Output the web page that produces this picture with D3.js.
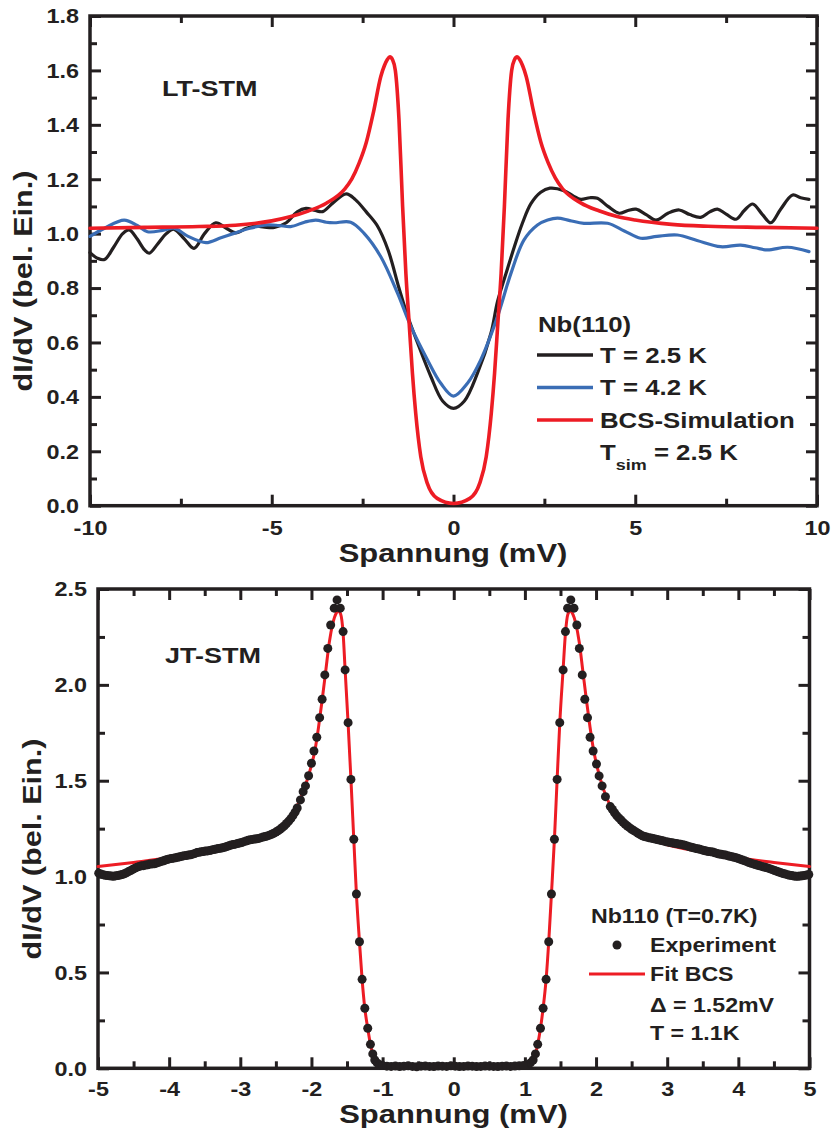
<!DOCTYPE html>
<html>
<head>
<meta charset="utf-8">
<script src="https://cdn.jsdelivr.net/npm/d3@7"></script>
<style>
  body { margin: 0; background: #fff; }
  svg { display: block; background: #fff; }
  text { font-family: "Liberation Sans", Arial, sans-serif; font-weight: bold; fill: #231f20; }
</style>
</head>
<body>
<svg id="chart" width="832" height="1138"></svg>
<script>
var INK = "#231f20";
var RED = "#ed1c24";
var BLUE = "#3a6db5";
var STRETCH = 1.2;   // the figure font is wider than Arial
var MAJOR = 11, MINOR = 7;

// ---------- LT-STM panel (Nb(110)) ----------
var ltXTicks = [-10, -5, 0, 5, 10];
var ltXMinor = [-7.5, -2.5, 2.5, 7.5];
var ltYTicks = [0, 0.2, 0.4, 0.6, 0.8, 1.0, 1.2, 1.4, 1.6, 1.8];
var ltYMinor = [0.1, 0.3, 0.5, 0.7, 0.9, 1.1, 1.3, 1.5, 1.7];

var ltT25 = [
  [-10, 0.93], [-9.8, 0.91], [-9.6, 0.905], [-9.35, 0.95], [-9.1, 1.0], [-8.92, 1.014],
  [-8.7, 0.98], [-8.5, 0.94], [-8.37, 0.928], [-8.15, 0.96], [-7.9, 1.0], [-7.69, 1.016],
  [-7.4, 0.98], [-7.14, 0.946], [-6.85, 1.0], [-6.54, 1.04], [-6.25, 1.02], [-5.99, 1.003],
  [-5.7, 1.02], [-5.45, 1.028], [-5.2, 1.024], [-4.93, 1.023], [-4.6, 1.04], [-4.3, 1.08],
  [-4.06, 1.093], [-3.8, 1.085], [-3.6, 1.081], [-3.3, 1.115], [-2.95, 1.146], [-2.7, 1.125],
  [-2.4, 1.08], [-2.1, 1.03], [-1.8, 0.94], [-1.5, 0.80], [-1.27, 0.70], [-0.95, 0.585],
  [-0.62, 0.474], [-0.3, 0.385], [0, 0.358], [0.3, 0.385], [0.66, 0.487], [1.03, 0.634],
  [1.21, 0.75], [1.39, 0.83], [1.67, 0.95], [1.9, 1.04], [2.13, 1.11], [2.4, 1.152],
  [2.65, 1.167], [3.04, 1.158], [3.3, 1.138], [3.5, 1.126], [3.75, 1.132], [3.96, 1.13],
  [4.25, 1.10], [4.56, 1.075], [4.8, 1.085], [5.02, 1.09], [5.3, 1.07], [5.57, 1.05],
  [5.9, 1.075], [6.21, 1.087], [6.5, 1.07], [6.8, 1.06], [7.05, 1.08], [7.26, 1.09],
  [7.5, 1.072], [7.77, 1.053], [8.0, 1.085], [8.23, 1.109], [8.5, 1.07], [8.73, 1.04],
  [9.0, 1.09], [9.33, 1.142], [9.55, 1.132], [9.78, 1.126]
];

var ltT42 = [
  [-10, 0.99], [-9.6, 1.02], [-9.06, 1.05], [-8.7, 1.03], [-8.42, 1.007], [-8.0, 1.012],
  [-7.69, 1.02], [-7.3, 0.99], [-6.81, 0.967], [-6.4, 0.985], [-6.04, 1.001], [-5.6, 1.02],
  [-5.12, 1.032], [-4.8, 1.03], [-4.48, 1.026], [-4.1, 1.042], [-3.79, 1.05], [-3.5, 1.042],
  [-3.29, 1.04], [-2.83, 1.042], [-2.46, 1.001], [-2.0, 0.915], [-1.54, 0.781], [-1.17, 0.658],
  [-0.715, 0.536], [-0.35, 0.45], [0, 0.403], [0.385, 0.45], [0.75, 0.536], [1.21, 0.695],
  [1.58, 0.854], [1.94, 0.977], [2.31, 1.032], [2.59, 1.05], [2.86, 1.057], [3.2, 1.048],
  [3.59, 1.038], [4.24, 1.038], [4.7, 1.01], [5.15, 0.983], [5.6, 0.99], [6.16, 0.995],
  [6.7, 0.975], [7.35, 0.952], [7.9, 0.958], [8.3, 0.948], [8.64, 0.94], [9.19, 0.95],
  [9.78, 0.934]
];

var ltBcs = [
  [-10, 1.020], [-8.5, 1.023], [-7, 1.026], [-6, 1.031], [-5, 1.047], [-4.5, 1.062],
  [-4, 1.083], [-3.5, 1.112], [-3, 1.163], [-2.8, 1.200], [-2.6, 1.258], [-2.4, 1.335],
  [-2.2, 1.448], [-2.0, 1.578], [-1.9, 1.618], [-1.82, 1.640], [-1.75, 1.650], [-1.68, 1.640],
  [-1.6, 1.600], [-1.5, 1.420], [-1.4, 1.100], [-1.31, 0.854], [-1.22, 0.671], [-1.13, 0.487],
  [-1.04, 0.340], [-0.9, 0.180], [-0.72, 0.082], [-0.45, 0.027], [0, 0.008], [0.45, 0.027],
  [0.72, 0.082], [0.9, 0.180], [1.04, 0.340], [1.13, 0.487], [1.22, 0.671], [1.31, 0.854],
  [1.4, 1.100], [1.5, 1.420], [1.6, 1.600], [1.68, 1.640], [1.75, 1.650], [1.82, 1.640],
  [1.9, 1.618], [2.0, 1.578], [2.2, 1.450], [2.4, 1.338], [2.6, 1.262], [2.8, 1.205],
  [3.0, 1.165], [3.5, 1.113], [4.0, 1.084], [4.5, 1.063], [5.0, 1.050], [6.0, 1.034],
  [7.0, 1.027], [8.5, 1.023], [10, 1.020]
];

// ---------- JT-STM panel (Nb110, T=0.7K) ----------
var jtXTicks = [-5, -4, -3, -2, -1, 0, 1, 2, 3, 4, 5];
var jtXMinor = [-4.5, -3.5, -2.5, -1.5, -0.5, 0.5, 1.5, 2.5, 3.5, 4.5];
var jtYTicks = [0, 0.5, 1.0, 1.5, 2.0, 2.5];
var jtYMinor = [0.25, 0.75, 1.25, 1.75, 2.25];

var jtExpLeftTail = [
  [-4.99, 1.018], [-4.96, 1.014], [-4.93, 1.010], [-4.90, 1.007], [-4.87, 1.005], [-4.84, 1.004],
  [-4.81, 1.003], [-4.78, 1.002], [-4.75, 1.004], [-4.72, 1.005], [-4.69, 1.008], [-4.66, 1.011],
  [-4.63, 1.015], [-4.60, 1.020], [-4.57, 1.026], [-4.54, 1.032], [-4.51, 1.038], [-4.48, 1.044],
  [-4.45, 1.049], [-4.42, 1.053], [-4.39, 1.056], [-4.36, 1.057], [-4.33, 1.060], [-4.30, 1.062],
  [-4.27, 1.065], [-4.24, 1.066], [-4.21, 1.067], [-4.18, 1.070], [-4.15, 1.074], [-4.12, 1.078],
  [-4.09, 1.081], [-4.06, 1.085], [-4.03, 1.089], [-4.00, 1.092], [-3.97, 1.094], [-3.94, 1.096],
  [-3.91, 1.098], [-3.88, 1.101], [-3.85, 1.103], [-3.82, 1.106], [-3.79, 1.109], [-3.76, 1.110],
  [-3.73, 1.112], [-3.70, 1.114], [-3.67, 1.117], [-3.64, 1.120], [-3.61, 1.125], [-3.58, 1.127],
  [-3.55, 1.129], [-3.52, 1.131], [-3.49, 1.133], [-3.46, 1.134], [-3.43, 1.136], [-3.40, 1.139],
  [-3.37, 1.141], [-3.34, 1.144], [-3.31, 1.146], [-3.28, 1.148], [-3.25, 1.150], [-3.22, 1.153],
  [-3.19, 1.157], [-3.16, 1.161], [-3.13, 1.165], [-3.10, 1.167], [-3.07, 1.169], [-3.04, 1.172],
  [-3.01, 1.175], [-2.98, 1.178], [-2.95, 1.182], [-2.92, 1.185], [-2.89, 1.189], [-2.86, 1.192],
  [-2.83, 1.194], [-2.80, 1.196], [-2.77, 1.197], [-2.74, 1.199], [-2.71, 1.203], [-2.68, 1.206],
  [-2.65, 1.209], [-2.62, 1.212], [-2.59, 1.216], [-2.56, 1.221], [-2.53, 1.226], [-2.50, 1.232],
  [-2.47, 1.239], [-2.44, 1.247], [-2.41, 1.256], [-2.38, 1.265], [-2.35, 1.277], [-2.32, 1.289],
  [-2.29, 1.302], [-2.26, 1.318], [-2.23, 1.336], [-2.20, 1.358]
];

var jtExpPeaks = [
  [-2.155, 1.40], [-2.117, 1.443], [-2.084, 1.473], [-2.04, 1.526], [-2.00, 1.591], [-1.965, 1.655],
  [-1.925, 1.727], [-1.885, 1.829], [-1.85, 1.925], [-1.812, 2.052], [-1.77, 2.19], [-1.73, 2.312],
  [-1.68, 2.40], [-1.64, 2.443], [-1.595, 2.40], [-1.555, 2.278], [-1.527, 2.078], [-1.485, 1.803],
  [-1.445, 1.507], [-1.405, 1.195], [-1.368, 0.909], [-1.325, 0.66], [-1.288, 0.464], [-1.25, 0.313],
  [-1.209, 0.209], [-1.171, 0.125], [-1.138, 0.075], [-1.11, 0.043], [-1.077, 0.028], [-1.04, 0.018],
  [1.04, 0.018], [1.077, 0.028], [1.116, 0.043], [1.148, 0.075], [1.18, 0.125], [1.219, 0.209],
  [1.256, 0.313], [1.298, 0.464], [1.335, 0.66], [1.373, 0.909], [1.415, 1.195], [1.453, 1.507],
  [1.49, 1.803], [1.537, 2.078], [1.57, 2.278], [1.60, 2.40], [1.645, 2.443], [1.69, 2.40],
  [1.73, 2.312], [1.765, 2.19], [1.806, 2.052], [1.842, 1.925], [1.88, 1.829], [1.916, 1.727],
  [1.959, 1.655], [2.006, 1.587], [2.043, 1.525], [2.085, 1.473], [2.132, 1.417]
];

var jtExpGap = [
  [-1.00, 0.014], [-0.94, 0.011], [-0.88, 0.010], [-0.82, 0.012], [-0.76, 0.009], [-0.70, 0.011],
  [-0.64, 0.013], [-0.58, 0.010], [-0.52, 0.008], [-0.46, 0.011], [-0.40, 0.012], [-0.34, 0.010],
  [-0.28, 0.009], [-0.22, 0.012], [-0.16, 0.011], [-0.10, 0.010], [-0.04, 0.013], [0.02, 0.011],
  [0.08, 0.009], [0.14, 0.010], [0.20, 0.012], [0.26, 0.011], [0.32, 0.009], [0.38, 0.010],
  [0.44, 0.012], [0.50, 0.011], [0.56, 0.010], [0.62, 0.009], [0.68, 0.011], [0.74, 0.012],
  [0.80, 0.010], [0.86, 0.012], [0.92, 0.013], [0.98, 0.015]
];

var jtExpRightTail = [
  [2.20, 1.365], [2.23, 1.350], [2.26, 1.333], [2.29, 1.318], [2.32, 1.306], [2.35, 1.295],
  [2.38, 1.283], [2.41, 1.273], [2.44, 1.264], [2.47, 1.255], [2.50, 1.247], [2.53, 1.240],
  [2.56, 1.233], [2.59, 1.226], [2.62, 1.219], [2.65, 1.213], [2.68, 1.209], [2.71, 1.206],
  [2.74, 1.203], [2.77, 1.201], [2.80, 1.198], [2.83, 1.196], [2.86, 1.193], [2.89, 1.191],
  [2.92, 1.188], [2.95, 1.185], [2.98, 1.182], [3.01, 1.180], [3.04, 1.178], [3.07, 1.176],
  [3.10, 1.174], [3.13, 1.172], [3.16, 1.170], [3.19, 1.168], [3.22, 1.166], [3.25, 1.163],
  [3.28, 1.160], [3.31, 1.156], [3.34, 1.153], [3.37, 1.150], [3.40, 1.147], [3.43, 1.145],
  [3.46, 1.142], [3.49, 1.139], [3.52, 1.136], [3.55, 1.133], [3.58, 1.131], [3.61, 1.130],
  [3.64, 1.128], [3.67, 1.124], [3.70, 1.121], [3.73, 1.118], [3.76, 1.116], [3.79, 1.114],
  [3.82, 1.112], [3.85, 1.109], [3.88, 1.106], [3.91, 1.104], [3.94, 1.101], [3.97, 1.098],
  [4.00, 1.094], [4.03, 1.090], [4.06, 1.086], [4.09, 1.082], [4.12, 1.078], [4.15, 1.073],
  [4.18, 1.069], [4.21, 1.066], [4.24, 1.063], [4.27, 1.059], [4.30, 1.056], [4.33, 1.053],
  [4.36, 1.050], [4.39, 1.047], [4.42, 1.044], [4.45, 1.040], [4.48, 1.036], [4.51, 1.032],
  [4.54, 1.028], [4.57, 1.024], [4.60, 1.020], [4.63, 1.016], [4.66, 1.013], [4.69, 1.010],
  [4.72, 1.007], [4.75, 1.005], [4.78, 1.003], [4.81, 1.002], [4.84, 1.002], [4.87, 1.003],
  [4.90, 1.004], [4.93, 1.006], [4.96, 1.008], [4.99, 1.011]
];

var jtFit = [
  [-5, 1.052], [-4.5, 1.074], [-4, 1.098], [-3.5, 1.130], [-3, 1.166], [-2.7, 1.208],
  [-2.5, 1.245], [-2.4, 1.275], [-2.3, 1.315], [-2.2, 1.370], [-2.1, 1.460], [-2.0, 1.580],
  [-1.95, 1.660], [-1.9, 1.780], [-1.85, 1.920], [-1.8, 2.070], [-1.75, 2.220], [-1.7, 2.320],
  [-1.65, 2.375], [-1.62, 2.385], [-1.59, 2.370], [-1.555, 2.270], [-1.527, 2.080], [-1.485, 1.800],
  [-1.445, 1.507], [-1.405, 1.195], [-1.368, 0.909], [-1.325, 0.660], [-1.288, 0.464], [-1.25, 0.313],
  [-1.209, 0.209], [-1.171, 0.125], [-1.138, 0.075], [-1.1, 0.040], [-1.05, 0.020], [-0.95, 0.006],
  [-0.7, 0.001], [0, 0], [0.7, 0.001], [0.95, 0.006], [1.05, 0.020], [1.1, 0.040],
  [1.148, 0.075], [1.18, 0.125], [1.219, 0.209], [1.256, 0.313], [1.298, 0.464], [1.335, 0.660],
  [1.373, 0.909], [1.415, 1.195], [1.453, 1.507], [1.49, 1.800], [1.537, 2.080], [1.57, 2.270],
  [1.605, 2.370], [1.635, 2.385], [1.665, 2.375], [1.715, 2.320], [1.765, 2.220], [1.815, 2.070],
  [1.865, 1.920], [1.915, 1.780], [1.965, 1.660], [2.01, 1.580], [2.1, 1.460], [2.2, 1.370],
  [2.3, 1.315], [2.4, 1.275], [2.5, 1.245], [2.7, 1.208], [3, 1.166], [3.5, 1.130],
  [4, 1.098], [4.5, 1.074], [5, 1.052]
];

var svg = d3.select("#chart");

function addAxis(g, axis, values, size, transform, fmt) {
  axis.tickValues(values).tickSize(-size)
    .tickFormat(fmt || function () { return ""; });
  var ag = g.append("g").attr("transform", transform).call(axis)
    .attr("font-family", null).attr("font-size", null);
  ag.select(".domain").remove();
  ag.selectAll(".tick line").attr("stroke", INK).attr("stroke-width", 3);
  ag.selectAll(".tick text").attr("fill", INK).style("font-size", "19.5px");
  return ag;
}

function addText(g, x, y, str, size, anchor, rotate) {
  return g.append("text")
    .attr("transform", "translate(" + x + "," + y + ")" + (rotate ? " rotate(-90)" : "") + " scale(" + STRETCH + ",1)")
    .attr("text-anchor", anchor || "start")
    .style("font-size", size + "px")
    .text(str);
}

function drawPanel(box, xDom, yDom, xt, xm, yt, ym, yFmt, labelGap) {
  var x = d3.scaleLinear().domain(xDom).range([box.left, box.right]);
  var y = d3.scaleLinear().domain(yDom).range([box.bottom, box.top]);
  var g = svg.append("g");

  var bx = addAxis(g, d3.axisBottom(x), xt, MAJOR, "translate(0," + box.bottom + ")", function (d) { return String(d); });
  bx.selectAll(".tick text").attr("y", labelGap).attr("dy", null).attr("transform", "scale(" + STRETCH + ",1)");
  addAxis(g, d3.axisBottom(x), xm, MINOR, "translate(0," + box.bottom + ")");
  addAxis(g, d3.axisTop(x), xt, MAJOR, "translate(0," + box.top + ")");
  addAxis(g, d3.axisTop(x), xm, MINOR, "translate(0," + box.top + ")");

  var ly = addAxis(g, d3.axisLeft(y), yt, MAJOR, "translate(" + box.left + ",0)", yFmt);
  ly.selectAll(".tick text").attr("x", -11 / STRETCH).attr("dy", "0.35em").attr("transform", "scale(" + STRETCH + ",1)");
  addAxis(g, d3.axisLeft(y), ym, MINOR, "translate(" + box.left + ",0)");
  addAxis(g, d3.axisRight(y), yt, MAJOR, "translate(" + box.right + ",0)");
  addAxis(g, d3.axisRight(y), ym, MINOR, "translate(" + box.right + ",0)");

  g.append("rect")
    .attr("x", box.left).attr("y", box.top)
    .attr("width", box.right - box.left).attr("height", box.bottom - box.top)
    .attr("fill", "none").attr("stroke", INK).attr("stroke-width", 3.5);

  return { x: x, y: y, g: g };
}

function drawLine(p, data, color, width, curve) {
  var line = d3.line()
    .x(function (d) { return p.x(d[0]); })
    .y(function (d) { return p.y(d[1]); })
    .curve(curve);
  p.g.append("path")
    .datum(data)
    .attr("d", line)
    .attr("fill", "none")
    .attr("stroke", color)
    .attr("stroke-width", width)
    .attr("stroke-linejoin", "round")
    .attr("stroke-linecap", "round");
}

// ---------- top panel ----------
var fmt1 = d3.format(".1f");
var ltPanel = drawPanel({ left: 90, right: 817, top: 16, bottom: 505.7 }, [-10, 10], [0, 1.8],
  ltXTicks, ltXMinor, ltYTicks, ltYMinor, fmt1, 29);

drawLine(ltPanel, ltT25, INK, 3.2, d3.curveCatmullRom.alpha(0.5));
drawLine(ltPanel, ltT42, BLUE, 3.2, d3.curveCatmullRom.alpha(0.5));
drawLine(ltPanel, ltBcs, RED, 3.6, d3.curveMonotoneX);

addText(ltPanel.g, 162, 96, "LT-STM", 22.5);
addText(ltPanel.g, 453, 562, "Spannung (mV)", 25.8, "middle");
addText(ltPanel.g, 32, 281, "dI/dV (bel. Ein.)", 25.5, "middle", true);

var ltLegend = [
  { label: "T = 2.5 K", color: INK },
  { label: "T = 4.2 K", color: BLUE },
  { label: "BCS-Simulation", color: RED }
];
addText(ltPanel.g, 538, 332, "Nb(110)", 21.5);
ltLegend.forEach(function (d, i) {
  var yy = 355 + i * 32.5;
  ltPanel.g.append("line")
    .attr("x1", 537).attr("x2", 593).attr("y1", yy).attr("y2", yy)
    .attr("stroke", d.color).attr("stroke-width", 3.4);
  addText(ltPanel.g, 600, yy + 7.5, d.label, 21.5);
});
var tsim = addText(ltPanel.g, 600, 460, "T", 21.5);
tsim.append("tspan").attr("dy", 10).style("font-size", "15px").text("sim");
tsim.append("tspan").attr("dy", -10).text(" = 2.5 K");

// ---------- bottom panel ----------
var jtPanel = drawPanel({ left: 98, right: 809.5, top: 589, bottom: 1068.3 }, [-5, 5], [0, 2.5],
  jtXTicks, jtXMinor, jtYTicks, jtYMinor, fmt1, 27.7);

drawLine(jtPanel, jtFit, RED, 3, d3.curveMonotoneX);

var jtExp = jtExpLeftTail.concat(jtExpPeaks, jtExpGap, jtExpRightTail);
jtPanel.g.append("g").selectAll("circle")
  .data(jtExp)
  .join("circle")
  .attr("cx", function (d) { return jtPanel.x(d[0]); })
  .attr("cy", function (d) { return jtPanel.y(d[1]); })
  .attr("r", 4.5)
  .attr("fill", INK);

addText(jtPanel.g, 165, 663, "JT-STM", 22.5);
addText(jtPanel.g, 453.5, 1123, "Spannung (mV)", 25.8, "middle");
addText(jtPanel.g, 41, 849, "dI/dV (bel. Ein.)", 25.5, "middle", true);

addText(jtPanel.g, 591, 923, "Nb110 (T=0.7K)", 19.3);
jtPanel.g.append("circle").attr("cx", 617).attr("cy", 945).attr("r", 4.5).attr("fill", INK);
addText(jtPanel.g, 650, 952, "Experiment", 19.3);
jtPanel.g.append("line")
  .attr("x1", 589).attr("x2", 645).attr("y1", 974).attr("y2", 974)
  .attr("stroke", RED).attr("stroke-width", 3);
addText(jtPanel.g, 650, 981, "Fit BCS", 19.3);
addText(jtPanel.g, 650, 1012, "\u0394 = 1.52mV", 19.3);
addText(jtPanel.g, 650, 1040, "T = 1.1K", 19.3);
</script>
</body>
</html>
